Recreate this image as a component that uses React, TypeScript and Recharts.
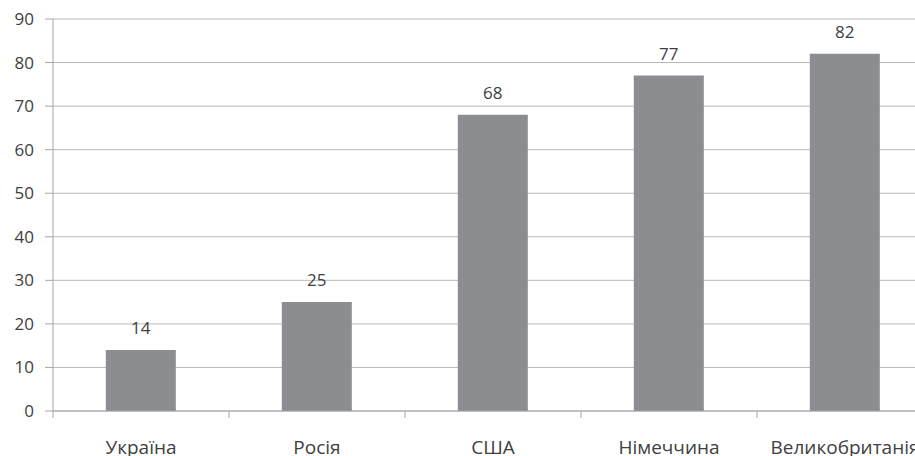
import React from 'react';
import { BarChart, Bar, XAxis, YAxis, CartesianGrid, LabelList } from 'recharts';

const countries = ['Україна', 'Росія', 'США', 'Німеччина', 'Великобританія'];
const values = [14, 25, 68, 77, 82];
const yTicks = [0, 10, 20, 30, 40, 50, 60, 70, 80, 90];

const data = countries.map((name, i) => ({ name, value: values[i] }));

const FONT = '"Open Sans", "DejaVu Sans", sans-serif';
const TEXT = '#404040';
const LINE = '#a6a6a6';
const X_LABEL_GAP = 30;

// category label in the middle, tick mark on the left boundary of the band (Excel style)
const CategoryTick = (props: any) => {
  const { x, y, payload, width, visibleTicksCount } = props;
  const band = width / (visibleTicksCount || countries.length);
  const left = x - band / 2;
  const axisY = y - X_LABEL_GAP;
  return (
    <g>
      <line x1={left} y1={axisY} x2={left} y2={axisY + 7} stroke={LINE} />
      <text
        x={x}
        y={y}
        dy="0.71em"
        textAnchor="middle"
        fill={TEXT}
        fontSize={19}
        fontFamily={FONT}
      >
        {payload.value}
      </text>
    </g>
  );
};

export default function App() {
  return (
    <div
      style={{
        position: 'fixed',
        top: 0,
        left: 0,
        width: 915,
        height: 456,
        overflow: 'hidden',
        background: '#fff',
      }}
    >
      <BarChart
        width={940}
        height={456}
        data={data}
        margin={{ top: 19, right: 7, bottom: 0, left: 0 }}
        barCategoryGap="30%"
      >
        <CartesianGrid vertical={false} stroke="#b8b8b8" />
        <XAxis
          dataKey="name"
          height={45}
          stroke={LINE}
          tickLine={false}
          tickSize={0}
          tickMargin={X_LABEL_GAP}
          interval={0}
          tick={<CategoryTick />}
        />
        <YAxis
          width={53}
          domain={[0, 90]}
          ticks={yTicks}
          stroke={LINE}
          tickSize={8}
          tickMargin={11}
          tick={{ fill: TEXT, fontSize: 17, fontFamily: FONT }}
        />
        <Bar dataKey="value" fill="#8c8d91" isAnimationActive={false}>
          <LabelList
            dataKey="value"
            position="top"
            offset={16}
            style={{ fill: TEXT, fontSize: 17, fontFamily: FONT }}
          />
        </Bar>
      </BarChart>
    </div>
  );
}
